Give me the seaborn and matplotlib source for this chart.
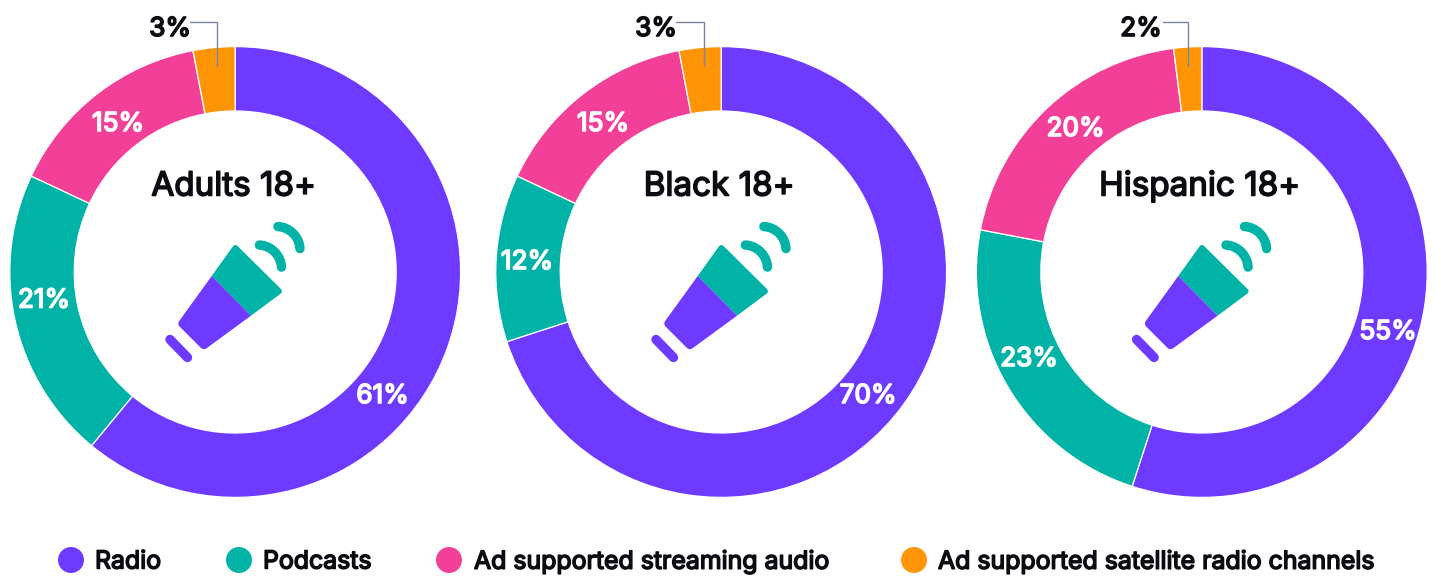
import numpy as np
import pandas as pd
import matplotlib
matplotlib.use("Agg")
import matplotlib.pyplot as plt
import matplotlib.patheffects as pe
from matplotlib.patches import PathPatch
from matplotlib.path import Path
import seaborn as sns

# Audience shares, in percent, for each group
groups = ["Adults 18+", "Black 18+", "Hispanic 18+"]
channels = ["Radio", "Podcasts", "Ad supported streaming audio",
            "Ad supported satellite radio channels"]
adults = [61, 21, 15, 3]
black = [70, 12, 15, 3]
hispanic = [55, 23, 20, 2]

# Styling and placement, in pixels from the top-left of the figure
W, H = 1433, 576
PURPLE, TEAL, PINK, ORANGE = "#6f3aff", "#00b3a6", "#f23f98", "#ff9505"
colors = [PURPLE, TEAL, PINK, ORANGE]
centers_x = [235.2, 721.2, 1201.8]
center_y = 272
outer_r = 225.4
inner_r = 161
title_x = [233.5, 719, 1199.5]
title_y = 187
label_pos = [
    [(382.5, 396), (44, 300.5), (118, 124), (170, 29)],
    [(868, 396), (527, 262), (603, 124), (656, 29)],
    [(1388, 332), (1029, 359), (1075.5, 129), (1141, 29)],
]
leader_x = [(190, 217), (676, 704), (1163, 1188)]
legend_x = [71, 239, 449, 914]
legend_text_x = [95, 263, 474, 938]
legend_y = 562

sns.set_theme(style="white")
plt.rcParams["font.family"] = ["Inter", "DejaVu Sans"]
INK = "#0b0b12"


def heavy(width, color):
    """Outline that thickens the regular weight to a semibold look."""
    return [pe.withStroke(linewidth=width, foreground=color)]


fig = plt.figure(figsize=(W / 100, H / 100), dpi=100, facecolor="white")

# One pie axes per group, sized so the unit circle spans the outer radius
frame = pd.DataFrame({"Adults 18+": adults, "Black 18+": black,
                      "Hispanic 18+": hispanic}, index=channels)
for group, cx in zip(groups, centers_x):
    left = (cx - outer_r) / W
    bottom = 1 - (center_y + outer_r) / H
    ax = fig.add_axes([left, bottom, 2 * outer_r / W, 2 * outer_r / H])
    ax.pie(frame[group], colors=colors, startangle=90, counterclock=False,
           radius=1, wedgeprops=dict(width=1 - inner_r / outer_r,
                                     edgecolor="white", linewidth=0.9))
    ax.set_xlim(-1, 1)
    ax.set_ylim(-1, 1)
    ax.set_axis_off()

# Overlay in pixel coordinates for the text, icons and legend
ov = fig.add_axes([0, 0, 1, 1], zorder=5)
ov.set_xlim(0, W)
ov.set_ylim(H, 0)
ov.set_axis_off()
ov.patch.set_alpha(0)


def rounded(points, radius):
    """Closed path through points with each corner rounded off."""
    pts = np.asarray(points, float)
    verts, codes = [], []
    n = len(pts)
    for i in range(n):
        p, a, b = pts[i], pts[i - 1], pts[(i + 1) % n]
        r = radius[i]
        pa = p + (a - p) / np.linalg.norm(a - p) * r
        pb = p + (b - p) / np.linalg.norm(b - p) * r
        verts += [pa, p, pb]
        codes += [Path.MOVETO if i == 0 else Path.LINETO, Path.CURVE3, Path.CURVE3]
    verts.append(verts[0])
    codes.append(Path.CLOSEPOLY)
    return Path(verts, codes)


def draw_icon(dx):
    """Megaphone with two signal arcs, shifted horizontally by dx."""
    shift = np.array([dx, 0.0])
    cone = [(235, 243.5), (283.5, 291.5), (251, 315.7), (211.7, 276)]
    body = [(211.7, 276), (251, 315.7), (203.5, 350.5), (177, 324)]
    ov.add_patch(PathPatch(rounded(np.array(cone) + shift, [4, 4, 0.01, 0.01]),
                           fc=TEAL, ec="none"))
    ov.add_patch(PathPatch(rounded(np.array(body) + shift, [0.01, 0.01, 4, 4]),
                           fc=PURPLE, ec="none"))
    ov.plot([170 + dx, 187.5 + dx], [339.5, 357.5], color=PURPLE, lw=6.8,
            solid_capstyle="round")
    theta = np.linspace(0.06, np.pi / 2 - 0.06, 40)
    for ax0, ay0 in [(258, 268.5), (276.5, 250)]:
        ov.plot(ax0 + dx + 23.5 * np.sin(theta), ay0 - 23.5 * np.cos(theta),
                color=TEAL, lw=6.8, solid_capstyle="round")


for i, group in enumerate(groups):
    ov.text(title_x[i], title_y, group, ha="center", va="center",
            fontsize=23.9, color=INK, path_effects=heavy(1.15, INK))
    draw_icon(centers_x[i] - centers_x[0])
    for j, value in enumerate(frame[group]):
        x, y = label_pos[i][j]
        color = INK if j == 3 else "white"
        ov.text(x, y, f"{value}%", ha="center", va="center", fontsize=18.8,
                color=color, path_effects=heavy(1.2, color))
    x0, x1 = leader_x[i]
    ov.plot([x0, x1, x1], [22, 22, 66], color="#7c84a0", lw=1.0,
            solid_joinstyle="miter")

# Legend row: coloured dots with their channel names
legend_df = pd.DataFrame({"x": legend_x, "y": [560] * 4, "channel": channels})
sns.scatterplot(data=legend_df, x="x", y="y", hue="channel", palette=colors,
                s=(26 * 0.72) ** 2, linewidth=0, legend=False, ax=ov, clip_on=False)
ov.set_xlim(0, W)
ov.set_ylim(H, 0)
for tx, name in zip(legend_text_x, channels):
    ov.text(tx, legend_y, name, ha="left", va="center", fontsize=17.9,
            color=INK, path_effects=heavy(1.1, INK))

fig.savefig("out.png", dpi=100, facecolor="white")
